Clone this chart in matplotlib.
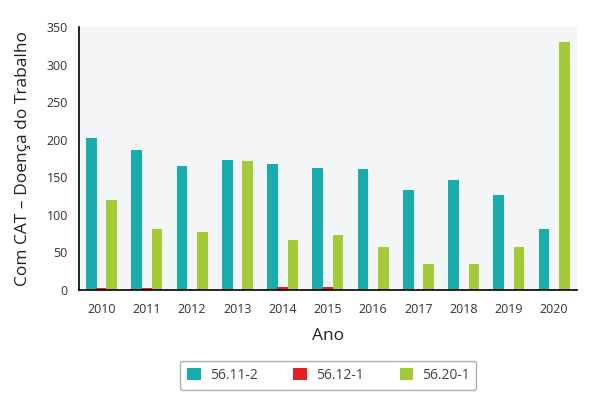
import matplotlib.pyplot as plt
import numpy as np

plt.rcParams['font.family'] = ['Open Sans', 'DejaVu Sans']

# dados
anos = ['2010', '2011', '2012', '2013', '2014', '2015', '2016', '2017', '2018', '2019', '2020']
s_5611 = [202, 186, 165, 173, 168, 162, 161, 133, 146, 126, 81]
s_5612 = [3, 3, 0, 0, 4, 4, 0, 0, 0, 0, 0]
s_5620 = [120, 81, 77, 172, 67, 73, 57, 35, 35, 57, 330]
series_names = ['56.11-2', '56.12-1', '56.20-1']
colors = ['#19acac', '#e3202a', '#a3cb38']

fig = plt.figure(figsize=(5.94, 3.97), dpi=100)
ax = fig.add_axes([0.133, 0.2695, 0.838, 0.6625])
ax.set_facecolor('#f4f5f7')

x = np.arange(len(anos))
w = 0.235
off = 0.225
for i, (vals, name, c) in enumerate(zip([s_5611, s_5612, s_5620], series_names, colors)):
    ax.bar(x + (i - 1) * off, vals, width=w, color=c, label=name, zorder=2)

ax.set_xlim(-0.5, len(anos) - 0.5)
ax.set_ylim(0, 350)
ax.set_yticks(range(0, 351, 50))
ax.set_xticks(x)
ax.set_xticklabels(anos)
ax.tick_params(axis='both', length=0, labelsize=9, colors='#333333')
ax.tick_params(axis='x', pad=9)
ax.tick_params(axis='y', pad=8)
for s in ['top', 'right']:
    ax.spines[s].set_visible(False)
for s in ['left', 'bottom']:
    ax.spines[s].set_color('black')
    ax.spines[s].set_linewidth(1.2)

ax.set_xlabel('Ano', fontsize=12.5, color='#222222', labelpad=9)
ax.set_ylabel('Com CAT – Doença do Trabalho', fontsize=12.5, color='#222222', labelpad=11)

leg = fig.legend(loc='center', bbox_to_anchor=(0.553, 0.055), ncol=3, fontsize=10,
                 frameon=True, fancybox=True, edgecolor='#999999', handlelength=1.0,
                 handleheight=1.0, columnspacing=2.6, borderpad=0.5, handletextpad=0.6)
for t in leg.get_texts():
    t.set_color('#444444')

fig.savefig('out.png', dpi=100)
